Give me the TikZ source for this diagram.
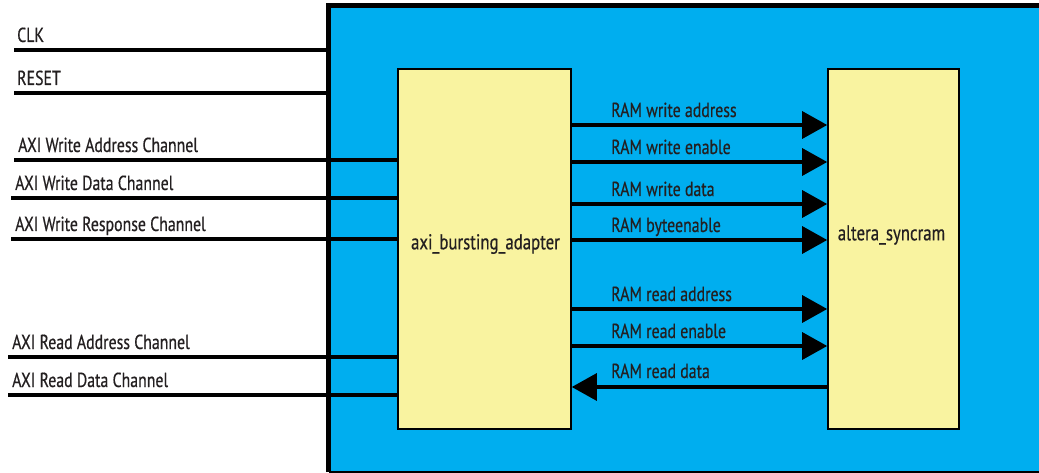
\documentclass[tikz,border=0pt]{standalone}
\usepackage{fontspec}
\setmainfont[FakeStretch=0.78,FakeBold=0.5]{PT Sans}
\usetikzlibrary{arrows.meta}
\definecolor{fpgablue}{RGB}{0,174,239}
\definecolor{blockyellow}{RGB}{249,243,160}
\definecolor{ink}{RGB}{35,31,32}
\begin{document}
\begin{tikzpicture}[x=1pt,y=-1pt,
    block/.style={draw,line width=1.6pt,fill=blockyellow,minimum height=360pt,inner sep=0pt,text=ink,font=\fontsize{21.5}{24}\selectfont},
    sig/.style={line width=3.2pt},
    ram/.style={sig,-{Triangle[length=25pt,width=27pt]}},
    lbl/.style={anchor=base west,inner sep=0pt,text=ink,font=\fontsize{20.3}{24}\selectfont}]
  \useasboundingbox (0,0) rectangle (1039,473);
  % top level
  \node[fill=fpgablue,minimum width=716pt,minimum height=466pt,inner sep=0pt] (top) at (687,239) {};
  \draw[line width=5pt] (top.south west) -- (top.north west) -- (top.north east);
  \draw[line width=1.5pt] (top.south west) -- (top.south east);
  \node[block,minimum width=173pt] (adapter) at (484.5,249) {};
  \node[block,minimum width=131pt] (syncram) at (893.5,249) {};
  \node[lbl,anchor=center,font=\fontsize{21.5}{24}\selectfont] (adapter-l) at (485.5,244) {axi\_bursting\_adapter};
  \node[lbl,anchor=center,font=\fontsize{21.5}{24}\selectfont] (syncram-l) at (891.5,235) {altera\_syncram};
  % clock and reset
  \foreach \y/\x/\nm/\txt in {50/14/clk/CLK,93/14/rst/RESET} {
    \coordinate (\nm) at (\x,\y);
    \node[lbl] (\nm-l) at (\x+3,\y-8) {\txt};
    \draw[sig] (\nm) -- (top.west |- \nm);
  }
  % axi channels
  \foreach \y/\x/\nm/\txt in {160/14/aw/AXI Write Address Channel,198/11/w/AXI Write Data Channel,
      239/11/b/AXI Write Response Channel,357/8/ar/AXI Read Address Channel,395/8/r/AXI Read Data Channel} {
    \coordinate (\nm) at (\x,\y);
    \node[lbl] (\nm-l) at (\x+4,\y-8) {\txt};
    \draw[sig] (\nm) -- (adapter.west |- \nm);
  }
  % ram ports
  \foreach \y/\nm/\txt in {125/wa/RAM write address,162/we/RAM write enable,204/wd/RAM write data,
      240/be/RAM byteenable,309/ra/RAM read address,346/re/RAM read enable} {
    \node[lbl] (\nm-l) at (611,\y-8) {\txt};
    \draw[ram] (adapter.east |- 0,\y) -- (syncram.west |- 0,\y);
  }
  \node[lbl] (rd-l) at (611,378) {RAM read data};
  \draw[ram] (syncram.west |- 0,387) -- (adapter.east |- 0,387);
\end{tikzpicture}
\end{document}
